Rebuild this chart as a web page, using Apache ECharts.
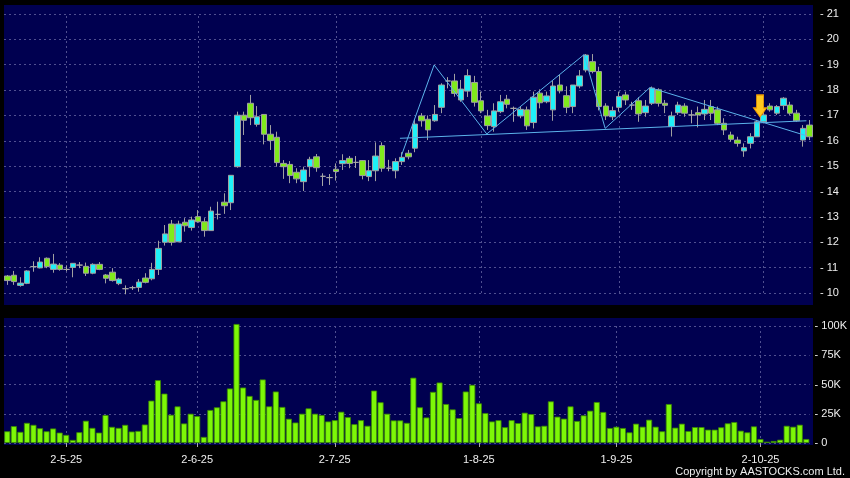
<!DOCTYPE html>
<html>
<head>
<meta charset="utf-8">
<script src="https://cdn.jsdelivr.net/npm/echarts@6/dist/echarts.min.js"></script>
<style>
html,body{margin:0;padding:0;background:#000;}
#chart{width:850px;height:478px;}
</style>
</head>
<body>
<div id="chart"></div>
<script>
const dates = [
'16-4-25','17-4-25','22-4-25','23-4-25','24-4-25','25-4-25','28-4-25','29-4-25','30-4-25',
'2-5-25','6-5-25','7-5-25','8-5-25','9-5-25','12-5-25','13-5-25','14-5-25','15-5-25','16-5-25',
'19-5-25','20-5-25','21-5-25','22-5-25','23-5-25','26-5-25','27-5-25','28-5-25','29-5-25','30-5-25',
'2-6-25','3-6-25','4-6-25','5-6-25','6-6-25','9-6-25','10-6-25','11-6-25','12-6-25','13-6-25',
'16-6-25','17-6-25','18-6-25','19-6-25','20-6-25','23-6-25','24-6-25','25-6-25','26-6-25','27-6-25','30-6-25',
'2-7-25','3-7-25','4-7-25','7-7-25','8-7-25','9-7-25','10-7-25','11-7-25','14-7-25','15-7-25','16-7-25','17-7-25','18-7-25',
'21-7-25','22-7-25','23-7-25','24-7-25','25-7-25','28-7-25','29-7-25','30-7-25','31-7-25',
'1-8-25','4-8-25','5-8-25','6-8-25','7-8-25','8-8-25','11-8-25','12-8-25','13-8-25','14-8-25','15-8-25',
'18-8-25','19-8-25','20-8-25','21-8-25','22-8-25','25-8-25','26-8-25','27-8-25','28-8-25','29-8-25',
'1-9-25','2-9-25','3-9-25','4-9-25','5-9-25','8-9-25','9-9-25','10-9-25','11-9-25','12-9-25',
'15-9-25','16-9-25','17-9-25','18-9-25','19-9-25','22-9-25','23-9-25','24-9-25','25-9-25','26-9-25','29-9-25','30-9-25',
'2-10-25','3-10-25','6-10-25','8-10-25','9-10-25','10-10-25','13-10-25','14-10-25'
];

const tickLabels = ['2-5-25','2-6-25','2-7-25','1-8-25','1-9-25','2-10-25'];

// [open, close, low, high]
const ohlc = [
[10.67,10.49,10.32,10.71],[10.70,10.45,10.32,10.87],[10.30,10.39,10.25,10.62],[10.38,10.87,10.35,10.90],[11.04,11.04,10.84,11.25],
[10.99,11.22,10.97,11.41],[11.37,11.04,10.98,11.40],[10.93,11.14,10.80,11.54],[11.10,10.93,10.88,11.18],[10.93,10.93,10.86,11.09],
[11.01,11.17,10.62,11.17],[11.10,11.10,10.98,11.22],[11.05,10.78,10.67,11.20],[10.78,11.13,10.74,11.17],[11.13,10.93,10.90,11.22],
[10.71,10.58,10.38,10.75],[10.82,10.49,10.45,10.98],[10.37,10.55,10.31,10.60],[10.17,10.17,9.95,10.30],[10.21,10.21,10.12,10.28],
[10.22,10.43,10.05,10.55],[10.59,10.42,10.38,10.78],[10.56,10.93,10.50,11.19],[10.93,11.76,10.71,12.06],[12.00,12.33,11.87,12.68],
[12.72,12.00,11.87,12.88],[12.02,12.72,12.00,12.85],[12.79,12.65,12.42,12.95],[12.58,12.88,12.46,13.01],[13.01,12.81,12.77,13.27],
[12.81,12.46,12.22,12.95],[12.46,13.23,12.46,13.40],[13.10,13.10,12.90,13.60],[13.58,13.44,13.12,13.93],[13.56,14.64,13.27,14.64],
[14.98,17.01,14.94,17.15],[17.01,16.81,16.23,17.15],[17.48,16.91,16.62,17.81],[16.65,16.95,16.56,17.37],[17.04,16.26,15.86,17.04],
[16.26,16.01,15.64,16.62],[16.14,15.14,14.98,16.36],[15.11,14.98,14.50,15.24],[15.07,14.63,14.33,15.20],[14.76,14.50,14.33,14.92],
[14.39,14.85,14.02,14.98],[14.98,15.27,14.58,15.37],[15.37,14.94,14.78,15.48],[14.60,14.60,14.22,14.72],[14.55,14.55,14.26,14.69],
[14.88,14.79,14.43,15.11],[15.10,15.22,14.85,15.47],[15.31,15.11,14.92,15.40],[15.15,15.15,14.93,15.40],[15.22,14.63,14.48,15.24],
[14.59,14.82,14.41,15.24],[14.82,15.40,14.41,15.94],[15.81,14.92,14.78,15.94],[14.92,14.92,14.80,15.25],[14.82,15.18,14.52,15.31],
[15.18,15.35,15.05,15.55],[15.51,15.37,15.27,15.64],[15.71,16.66,15.55,16.85],[16.98,16.79,16.56,17.09],[16.85,16.43,16.03,17.00],
[16.79,17.04,16.75,17.41],[17.32,18.20,17.09,18.27],[18.36,18.36,18.07,18.51],[18.36,17.87,17.74,18.64],[17.61,18.04,17.54,18.40],
[17.96,18.57,17.73,18.82],[18.30,17.52,17.35,18.56],[17.58,17.18,17.09,17.94],[16.98,16.60,16.43,17.22],[16.56,17.18,16.36,17.48],
[17.15,17.54,17.09,17.81],[17.64,17.44,17.28,17.81],[17.28,17.28,16.75,17.35],[16.98,17.24,16.89,17.35],[17.22,16.59,16.43,17.35],
[16.72,17.72,16.49,17.94],[17.88,17.50,17.28,18.03],[17.54,17.77,17.48,17.94],[17.22,18.16,16.79,18.37],[18.20,17.97,17.87,18.60],
[17.78,17.32,17.09,18.15],[17.35,18.20,17.09,18.20],[18.16,18.56,18.07,18.79],[18.79,19.38,18.70,19.42],[19.12,18.73,18.66,19.42],
[18.73,17.35,17.20,18.92],[17.37,16.98,16.82,17.48],[16.95,17.19,16.82,17.35],[17.32,17.75,17.15,17.94],[17.81,17.61,17.41,17.94],
[17.41,17.41,17.22,17.54],[17.58,17.06,16.75,17.72],[17.11,17.37,16.95,17.61],[17.48,18.08,17.41,18.14],[18.01,17.48,17.35,18.07],
[17.48,17.40,17.09,17.61],[16.56,16.98,16.17,17.15],[17.11,17.41,17.02,17.54],[17.37,17.09,16.95,17.48],[17.02,17.02,16.69,17.22],
[17.11,17.02,16.53,17.35],[17.06,17.24,16.82,17.61],[17.35,17.09,16.82,17.61],[17.22,16.69,16.62,17.35],[16.69,16.43,16.23,16.89],
[16.23,16.06,15.97,16.36],[16.03,15.90,15.77,16.16],[15.60,15.73,15.37,15.90],[15.90,16.16,15.70,16.30],[16.16,16.75,16.16,16.82],
[16.75,17.02,16.69,17.22],[17.37,17.22,17.15,17.48],[17.09,17.35,17.02,17.41],[17.39,17.68,17.22,17.72],[17.41,17.09,17.02,17.54],
[17.09,16.79,16.75,17.22],[16.03,16.49,15.77,16.62],[16.62,16.16,16.03,16.82]
];

// volume in thousands of shares
const volumeK = [
10,14.4,9.5,17.2,15.5,12.6,10,12.4,8.9,6.9,
2.6,9.2,19,12.9,8.9,23.9,13.8,12.9,15.5,9.8,
10.3,15.8,36.2,53.7,42.2,24.1,31.3,16.7,25,23,
5.2,28.2,30.5,35.6,46.6,101.7,47.4,40.2,36.8,54.3,
31.3,44,30.8,20.7,17.5,25,29.6,25,23.9,18.4,
19.5,26.7,22.1,16.1,19.5,14.7,44.8,34.8,25,19.3,
19.3,17.2,55.8,30.5,21.8,43.7,51.7,33.3,28.7,21.3,
44,49.7,33.9,25.6,18.4,19.5,13.5,19.5,17,25.9,
24.7,14.2,14.7,35.6,22.5,20.8,31.3,18.8,23.6,27.6,
35,26.5,12.8,13.9,12.8,9.1,16.5,13.9,19.9,13.9,
10,33.3,13.1,16.5,10.2,13.6,13.6,11.4,11.4,13.4,
16.8,17.9,10.5,9.1,14.2,3.4,1.1,1.7,2.8,14.7,
13.9,15.6,3.4
];

const priceTicks = [10,21,1];      // min, max, step
const volumeTicks = [0,100,25];    // min, max, step (K)

// chart-pattern annotation: [bar index, price]
const zigzag = [[59.9,15.40],[64.9,18.99],[72.9,16.27],[87.7,19.40],[90.9,16.49],[97.7,18.10],[121.5,16.20]];
const neckline = [[59.7,16.10],[121.5,16.79]];
const arrowPoint = [[114.45,16.94]];

const FONT = '"Liberation Sans", Arial, sans-serif';
const isTick = (idx) => tickLabels.indexOf(dates[idx]) >= 0;
const gridDash = {type:[2,3], color:'#505090', width:1};

const chart = echarts.init(document.getElementById('chart'), null, {renderer:'canvas'});

const option = {
  backgroundColor:'#000000',
  animation:false,
  graphic:[
    {type:'rect', z:-100, silent:true, shape:{x:4,y:5,width:809,height:300}, style:{fill:'#000050'}},
    {type:'rect', z:-100, silent:true, shape:{x:4,y:318,width:809,height:127}, style:{fill:'#000050'}},
    {type:'text', right:5, bottom:1, silent:true,
     style:{text:'Copyright by AASTOCKS.com Ltd.', fill:'#eeeeee', font:'11px ' + FONT}}
  ],
  grid:[
    {left:4, right:37, top:14, bottom:185},
    {left:4, right:37, top:326, bottom:35}
  ],
  xAxis:[
    {type:'category', gridIndex:0, data:dates, boundaryGap:true,
     axisLine:{show:false}, axisTick:{show:false}, axisLabel:{show:false}, splitLine:{show:false}},
    {type:'value', gridIndex:0, min:-0.5, max:dates.length-0.5, show:false},
    {type:'category', gridIndex:1, data:dates, boundaryGap:true, offset:3,
     axisLine:{show:false},
     axisTick:{show:true, alignWithLabel:true, length:4, interval:(i)=>isTick(i), lineStyle:{color:'#aaaaaa'}},
     axisLabel:{interval:(i)=>isTick(i), color:'#eeeeee', fontSize:11, fontFamily:FONT, margin:8},
     splitLine:{show:false}}
  ],
  yAxis:[
    {type:'value', gridIndex:0, position:'right', min:priceTicks[0], max:priceTicks[1], interval:priceTicks[2],
     axisLine:{show:false}, axisTick:{show:false},
     axisLabel:{formatter:(v)=>'- ' + v, color:'#eeeeee', fontSize:11, fontFamily:FONT, margin:7},
     splitLine:{show:true, lineStyle:gridDash}},
    {type:'value', gridIndex:1, position:'right', min:volumeTicks[0], max:volumeTicks[1], interval:volumeTicks[2],
     axisLine:{show:false}, axisTick:{show:false},
     axisLabel:{formatter:(v)=>'- ' + (v === 0 ? '0' : v + 'K'), color:'#eeeeee', fontSize:11, fontFamily:FONT, margin:5},
     splitLine:{show:true, lineStyle:gridDash}}
  ],
  series:[
    {type:'line', xAxisIndex:0, yAxisIndex:0, z:1, silent:true, showSymbol:false,
     data:dates.map(()=>null),
     markLine:{z:1, silent:true, symbol:'none', label:{show:false}, lineStyle:gridDash,
       data:tickLabels.map(d=>({xAxis:d}))}},
    {type:'candlestick', xAxisIndex:0, yAxisIndex:0, z:3, data:ohlc, barWidth:6, clip:false,
     itemStyle:{color:'#1ff0f8', color0:'#80ea1c', borderColor:'#a0a0a0', borderColor0:'#a0a0a0',
                borderColorDoji:'#a8a8a8', borderWidth:1}},
    {type:'line', xAxisIndex:1, yAxisIndex:0, z:5, silent:true, data:zigzag, showSymbol:false,
     lineStyle:{color:'#5bb2ea', width:1}},
    {type:'line', xAxisIndex:1, yAxisIndex:0, z:5, silent:true, data:neckline, showSymbol:false,
     lineStyle:{color:'#5bb2ea', width:1}},
    {type:'scatter', xAxisIndex:1, yAxisIndex:0, z:6, silent:true, data:arrowPoint,
     symbol:'path://M3,0L10,0L10,13L13,13L6.5,22L0,13L3,13Z', symbolSize:[13,22], symbolOffset:[0,-11],
     symbolKeepAspect:false,
     itemStyle:{color:'#ffc81e', borderColor:'#f09a00', borderWidth:1, opacity:1}},
    {type:'line', xAxisIndex:2, yAxisIndex:1, z:1, silent:true, showSymbol:false,
     data:dates.map(()=>null),
     markLine:{z:1, silent:true, symbol:'none', label:{show:false}, lineStyle:gridDash,
       data:tickLabels.map(d=>({xAxis:d}))}},
    {type:'bar', xAxisIndex:2, yAxisIndex:1, z:3, data:volumeK, barWidth:6, clip:false,
     itemStyle:{color:'#7df707', borderColor:'#3b8a00', borderWidth:0.8}}
  ]
};
chart.setOption(option);
</script>
</body>
</html>
